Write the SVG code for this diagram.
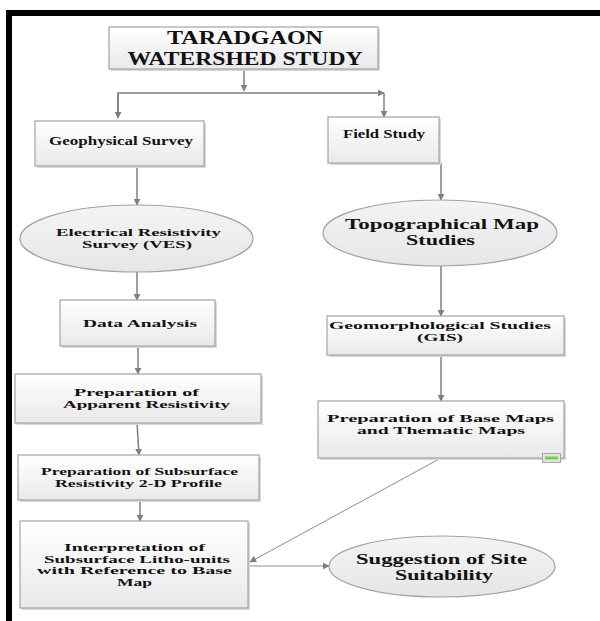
<svg xmlns="http://www.w3.org/2000/svg" width="600" height="621" viewBox="0 0 600 621">
<defs>
<linearGradient id="boxg" x1="0" y1="0" x2="0" y2="1">
<stop offset="0" stop-color="#ffffff"/>
<stop offset="1" stop-color="#e9e9e9"/>
</linearGradient>
<linearGradient id="ellg" x1="0" y1="0" x2="0" y2="1">
<stop offset="0" stop-color="#f4f4f4"/>
<stop offset="1" stop-color="#e6e6e6"/>
</linearGradient>
<marker id="ah" viewBox="0 0 10 10" refX="9" refY="5" markerWidth="7" markerHeight="7" markerUnits="userSpaceOnUse" orient="auto">
<path d="M0,0 L10,5 L0,10 z" fill="#7f7f7f"/>
</marker>
</defs>
<style>
.box{fill:url(#boxg);stroke:#a3a3a3;stroke-width:1.2}
.ell{fill:url(#ellg);stroke:#a3a3a3;stroke-width:1.2}
.sh{fill:#d8d8d8}
text{font-family:"Liberation Serif","Times New Roman",serif;font-weight:bold;fill:#121212;text-anchor:middle}
.t11{font-size:11px}
.t12{font-size:12px}
.t14{font-size:14px}
.t19{font-size:19px}
.con{fill:none;stroke:#808080;stroke-width:1.5}
.thin{fill:none;stroke:#8c8c8c;stroke-width:1}
</style>
<rect width="600" height="621" fill="#ffffff"/>
<rect x="6" y="10" width="594" height="6" fill="#000"/>
<rect x="6" y="10" width="6" height="611" fill="#000"/>

<g id="connectors">
<path class="con" d="M244,69 V91" marker-end="url(#ah)"/>
<path class="con" d="M118,117 V93 H384" marker-end="url(#ah)"/>
<path class="con" d="M384,93 V117" marker-end="url(#ah)"/>
<path class="con" d="M118,93 V118" marker-end="url(#ah)"/>
<path class="con" d="M137,166 V205" marker-end="url(#ah)"/>
<path class="con" d="M137,272 V300" marker-end="url(#ah)"/>
<path class="con" d="M138,346 V374" marker-end="url(#ah)"/>
<path class="con" d="M137,423 L139,455" marker-end="url(#ah)"/>
<path class="con" d="M140,500 V521" marker-end="url(#ah)"/>
<path class="con" d="M441,163 V200" marker-end="url(#ah)"/>
<path class="con" d="M441,266 V316" marker-end="url(#ah)"/>
<path class="con" d="M441,355 V401" marker-end="url(#ah)"/>
<path class="thin" d="M441,458 L250,562" marker-end="url(#ah)"/>
<path class="thin" d="M250,566 H329" marker-end="url(#ah)"/>
</g>

<g id="title">
<rect class="sh" x="111" y="29" width="269" height="42"/>
<rect class="box" x="109" y="27" width="269" height="42"/>
<text class="t19" x="245" y="44" textLength="156" lengthAdjust="spacingAndGlyphs">TARADGAON</text>
<text class="t19" x="245" y="65" textLength="235" lengthAdjust="spacingAndGlyphs">WATERSHED STUDY</text>
</g>

<g id="geophysical">
<rect class="sh" x="37" y="123" width="169" height="45"/>
<rect class="box" x="35" y="121" width="169" height="45"/>
<text class="t12" x="121" y="145" textLength="144" lengthAdjust="spacingAndGlyphs">Geophysical Survey</text>
</g>

<g id="fieldstudy">
<rect class="sh" x="330" y="119" width="111" height="46"/>
<rect class="box" x="328" y="117" width="111" height="46"/>
<text class="t12" x="384" y="138" textLength="82" lengthAdjust="spacingAndGlyphs">Field Study</text>
</g>

<g id="ers">
<ellipse class="ell" cx="136.5" cy="238.5" rx="116.5" ry="33.5"/>
<text class="t11" x="138.5" y="236" textLength="165" lengthAdjust="spacingAndGlyphs">Electrical Resistivity</text>
<text class="t11" x="137" y="248" textLength="110" lengthAdjust="spacingAndGlyphs">Survey (VES)</text>
</g>

<g id="dataanalysis">
<rect class="sh" x="62" y="302" width="155" height="46"/>
<rect class="box" x="60" y="300" width="155" height="46"/>
<text class="t11" x="140" y="327" textLength="114" lengthAdjust="spacingAndGlyphs">Data Analysis</text>
</g>

<g id="apparent">
<rect class="sh" x="17" y="376" width="246" height="49"/>
<rect class="box" x="15" y="374" width="246" height="49"/>
<text class="t11" x="136.5" y="396" textLength="125" lengthAdjust="spacingAndGlyphs">Preparation of</text>
<text class="t11" x="146.5" y="408" textLength="167" lengthAdjust="spacingAndGlyphs">Apparent Resistivity</text>
</g>

<g id="profile">
<rect class="sh" x="20" y="457" width="241" height="45"/>
<rect class="box" x="18" y="455" width="241" height="45"/>
<text class="t11" x="139.5" y="475" textLength="197" lengthAdjust="spacingAndGlyphs">Preparation of Subsurface</text>
<text class="t11" x="138.5" y="487" textLength="167" lengthAdjust="spacingAndGlyphs">Resistivity 2-D Profile</text>
</g>

<g id="interpretation">
<rect class="sh" x="22" y="523" width="228" height="87"/>
<rect class="box" x="20" y="521" width="228" height="87"/>
<text class="t11" x="134.5" y="551" textLength="141" lengthAdjust="spacingAndGlyphs">Interpretation of</text>
<text class="t11" x="137" y="563" textLength="186" lengthAdjust="spacingAndGlyphs">Subsurface Litho-units</text>
<text class="t11" x="134.5" y="574" textLength="195" lengthAdjust="spacingAndGlyphs">with Reference to Base</text>
<text class="t11" x="134.5" y="586" textLength="35" lengthAdjust="spacingAndGlyphs">Map</text>
</g>

<g id="topographical">
<ellipse class="ell" cx="440" cy="233" rx="117" ry="33"/>
<text class="t14" x="442" y="229" textLength="194" lengthAdjust="spacingAndGlyphs">Topographical Map</text>
<text class="t14" x="440.5" y="245" textLength="69" lengthAdjust="spacingAndGlyphs">Studies</text>
</g>

<g id="geomorph">
<rect class="sh" x="329" y="318" width="237" height="39"/>
<rect class="box" x="327" y="316" width="237" height="39"/>
<text class="t11" x="440" y="329" textLength="222" lengthAdjust="spacingAndGlyphs">Geomorphological Studies</text>
<text class="t11" x="440" y="341" textLength="46" lengthAdjust="spacingAndGlyphs">(GIS)</text>
</g>

<g id="basemaps">
<rect class="sh" x="320" y="403" width="246" height="57"/>
<rect class="box" x="318" y="401" width="246" height="57"/>
<text class="t11" x="440.5" y="422" textLength="227" lengthAdjust="spacingAndGlyphs">Preparation of  Base Maps</text>
<text class="t11" x="441" y="434" textLength="168" lengthAdjust="spacingAndGlyphs">and Thematic Maps</text>
<rect x="542.5" y="453.5" width="18" height="9" fill="#e4e4e4" stroke="#a8a8a8" stroke-width="1"/>
<rect x="545" y="456.5" width="13" height="3" fill="#6fd63a"/>
</g>

<g id="suggestion">
<ellipse class="ell" cx="442" cy="566.5" rx="113" ry="30.5"/>
<text class="t14" x="441.5" y="564" textLength="171" lengthAdjust="spacingAndGlyphs">Suggestion of Site</text>
<text class="t14" x="444" y="580" textLength="98" lengthAdjust="spacingAndGlyphs">Suitability</text>
</g>
</svg>
